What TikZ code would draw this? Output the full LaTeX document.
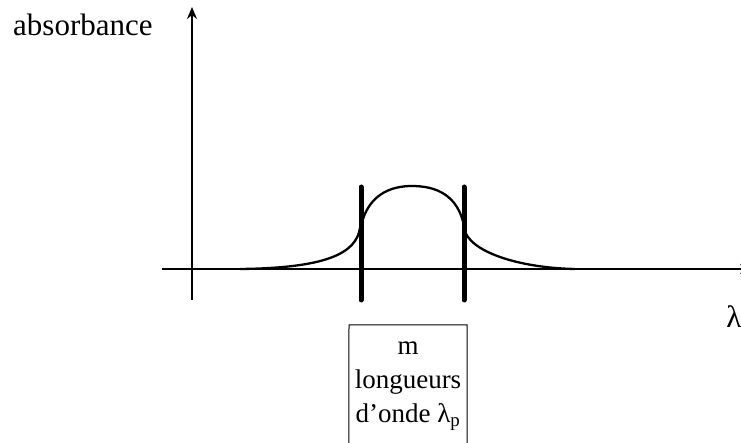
\documentclass[tikz,border=0pt]{standalone}
\usepackage{fontspec}
\setmainfont{Liberation Serif}
\usepackage{tikz}
\usetikzlibrary{arrows.meta,calc}

\tikzset{
  axis/.style={black,line width=2pt,-{Stealth[length=12pt,width=10pt]}},
  bar/.style={black,line width=5pt,line cap=round},
  courbe/.style={black,line width=2.3pt},
  bigtext/.style={font=\fontsize{31}{37}\selectfont,inner sep=0pt},
  boxtext/.style={font=\fontsize{27}{34}\selectfont,align=center,inner xsep=0pt,inner ysep=0pt,minimum width=118pt}
}

\begin{document}
\begin{tikzpicture}[x=1pt,y=-1pt]
\useasboundingbox (0,0) rectangle (741,443);
\clip (0,0) rectangle (741,443);

% axes
\coordinate (O) at (192,269);
\coordinate (ybas) at (192,300);
\coordinate (yhaut) at (192,7);
\coordinate (xgauche) at (162,269);
\coordinate (xdroite) at (752,269);
\draw[axis] (ybas) -- (yhaut);
\draw[axis] (xgauche) -- (xdroite);

\node[bigtext,anchor=base west] (absorb) at (13,36) {absorbance};
\node[bigtext,anchor=base] (lambda) at (734,327) {λ};

% bande d'absorption
\draw[courbe] (240,269) .. controls (325,268) and (356,254) .. (360,228);
\draw[courbe] (361,226) .. controls (368,195) and (390,186) .. (412,186)
                        .. controls (436,186) and (458,195) .. (464,226);
\draw[courbe] (464,228) .. controls (468,252) and (520,268) .. (575,269);

\draw[bar] (361,187) -- (361,300);
\draw[bar] (464,187) -- (464,300);

% boite
\node[boxtext,anchor=north] (onde) at (408,342) {m\\longueurs\\d’onde λ\textsubscript{p}};
\draw[black,line width=1pt] ($(onde.south west)+(0,40)$) -- (349,325) -- (467,325) -- ($(onde.south east)+(0,40)$);

\end{tikzpicture}
\end{document}
